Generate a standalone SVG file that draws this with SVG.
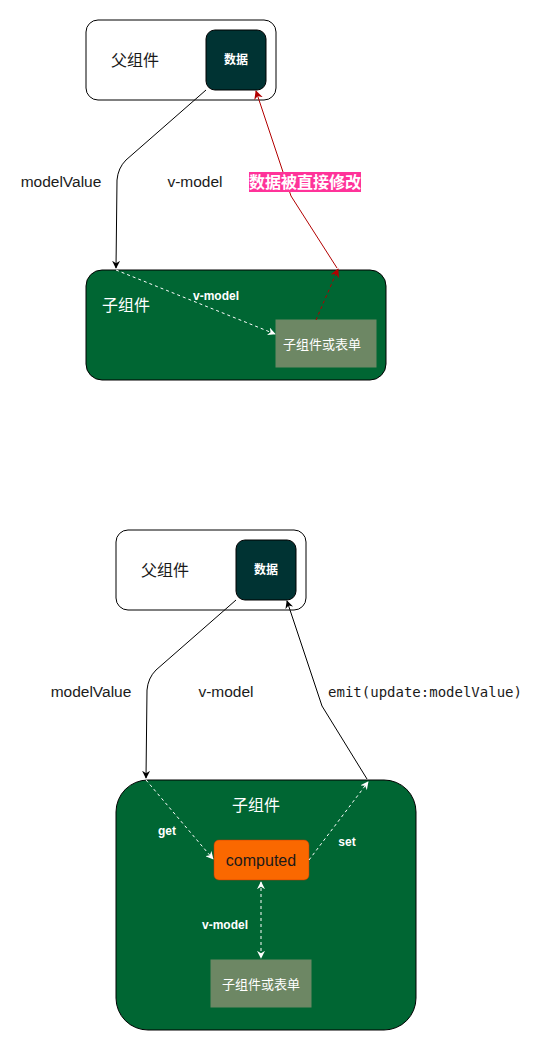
<svg xmlns="http://www.w3.org/2000/svg" width="557" height="1052" viewBox="0 0 557 1052">
<defs>
<marker id="ab" viewBox="0 0 10 10" refX="9" refY="5" markerWidth="8" markerHeight="8" orient="auto-start-reverse" markerUnits="userSpaceOnUse"><path d="M0,0 L10,5 L0,10 L3,5 Z" fill="#000"/></marker>
<marker id="ar" viewBox="0 0 10 10" refX="9" refY="5" markerWidth="9" markerHeight="9" orient="auto-start-reverse" markerUnits="userSpaceOnUse"><path d="M0,0 L10,5 L0,10 L3,5 Z" fill="#B20000"/></marker>
<marker id="aw" viewBox="0 0 10 10" refX="9" refY="5" markerWidth="8" markerHeight="8" orient="auto-start-reverse" markerUnits="userSpaceOnUse"><path d="M0,0 L10,5 L0,10 L3,5 Z" fill="#fff"/></marker>
<style>
.t{font-family:"Liberation Sans","Noto Sans CJK SC",sans-serif;}
.parent{fill:#fff;stroke:#000;stroke-width:1;}
.data{fill:#003333;stroke:#000;stroke-width:1;}
.child{fill:#006633;stroke:#000;stroke-width:1;}
.form{fill:#6D8764;stroke:#6D8764;}
.lbl{font-size:15.5px;fill:#1a1a1a;}
.cj{font-size:16px;fill:#1a1a1a;}
.wl{font-size:16px;fill:#fff;}
.ws{font-size:12px;fill:#fff;font-weight:bold;}
.wf{font-size:13px;fill:#fff;}
.bl{fill:none;stroke:#000;stroke-width:1;}
.rl{fill:none;stroke:#B20000;stroke-width:1;}
.wd{fill:none;stroke:#fff;stroke-width:1;stroke-dasharray:3 3;}
</style>
</defs>
<g id="parent1"><rect class="parent" x="86" y="20" width="190" height="80" rx="12"/><text class="t cj" x="135" y="66" text-anchor="middle">父组件</text></g>
<g id="data1"><rect class="data" x="206" y="30" width="60" height="60" rx="9"/><text class="t ws" x="236" y="64" text-anchor="middle">数据</text></g>
<g id="child1"><rect class="child" x="86" y="270" width="300" height="110" rx="16"/><text class="t wl" x="126" y="311" text-anchor="middle">子组件</text></g>
<g id="form1"><rect class="form" x="276" y="320" width="100" height="47"/><text class="t wf" x="322" y="349" text-anchor="middle">子组件或表单</text></g>
<g id="parent2"><rect class="parent" x="116" y="530" width="190" height="80" rx="12"/><text class="t cj" x="165" y="576" text-anchor="middle">父组件</text></g>
<g id="data2"><rect class="data" x="236" y="540" width="60" height="60" rx="9"/><text class="t ws" x="266" y="574" text-anchor="middle">数据</text></g>
<g id="child2"><rect class="child" x="116" y="780" width="300" height="250" rx="32"/><text class="t wl" x="256" y="811" text-anchor="middle">子组件</text></g>
<g id="computed"><rect x="214" y="840" width="95" height="40" rx="5" fill="#FA6800" stroke="#C73500" stroke-width="0.5"/><text class="t" x="261" y="866" text-anchor="middle" font-size="16" fill="#1a1a1a">computed</text></g>
<g id="form2"><rect class="form" x="211" y="960" width="100" height="47"/><text class="t wf" x="261" y="989" text-anchor="middle">子组件或表单</text></g>
<g id="connectors">
<path class="bl" d="M206,90 L126,160 Q118,168 117,180 L116,268" marker-end="url(#ab)"/>
<path class="rl" d="M337,268 L291,196 L256,91" marker-end="url(#ar)"/>
<path d="M316,320 L338,269" fill="none" stroke="#B20000" stroke-dasharray="3 3" marker-end="url(#ar)"/>
<path class="wd" d="M116,270 L275,334" marker-end="url(#aw)"/>
<path class="bl" d="M236,600 L156,670 Q148,678 147,690 L146,778" marker-end="url(#ab)"/>
<path class="bl" d="M367,779 L322,706 L287,601" marker-end="url(#ab)"/>
<path class="wd" d="M146,780 L213,859" marker-end="url(#aw)"/>
<path class="wd" d="M309,860 L368,782" marker-end="url(#aw)"/>
<path class="wd" d="M261,882 L261,958" marker-start="url(#aw)" marker-end="url(#aw)"/>
</g>
<g id="labels">
<text class="t lbl" x="61" y="187" text-anchor="middle">modelValue</text>
<text class="t lbl" x="195" y="187" text-anchor="middle">v-model</text>
<rect x="249" y="172" width="112" height="20" fill="#FF3399"/>
<text class="t" x="305" y="188" text-anchor="middle" font-size="16" fill="#fff" font-weight="bold">数据被直接修改</text>
<text class="t ws" x="216" y="300" text-anchor="middle">v-model</text>
<text class="t lbl" x="91" y="697" text-anchor="middle">modelValue</text>
<text class="t lbl" x="226" y="697" text-anchor="middle">v-model</text>
<text x="425" y="697" text-anchor="middle" font-family="'DejaVu Sans Mono',monospace" font-size="14" fill="#1a1a1a">emit(update:modelValue)</text>
<text class="t ws" x="167" y="835" text-anchor="middle">get</text>
<text class="t ws" x="347" y="846" text-anchor="middle">set</text>
<text class="t ws" x="225" y="929" text-anchor="middle">v-model</text>
</g>
</svg>
